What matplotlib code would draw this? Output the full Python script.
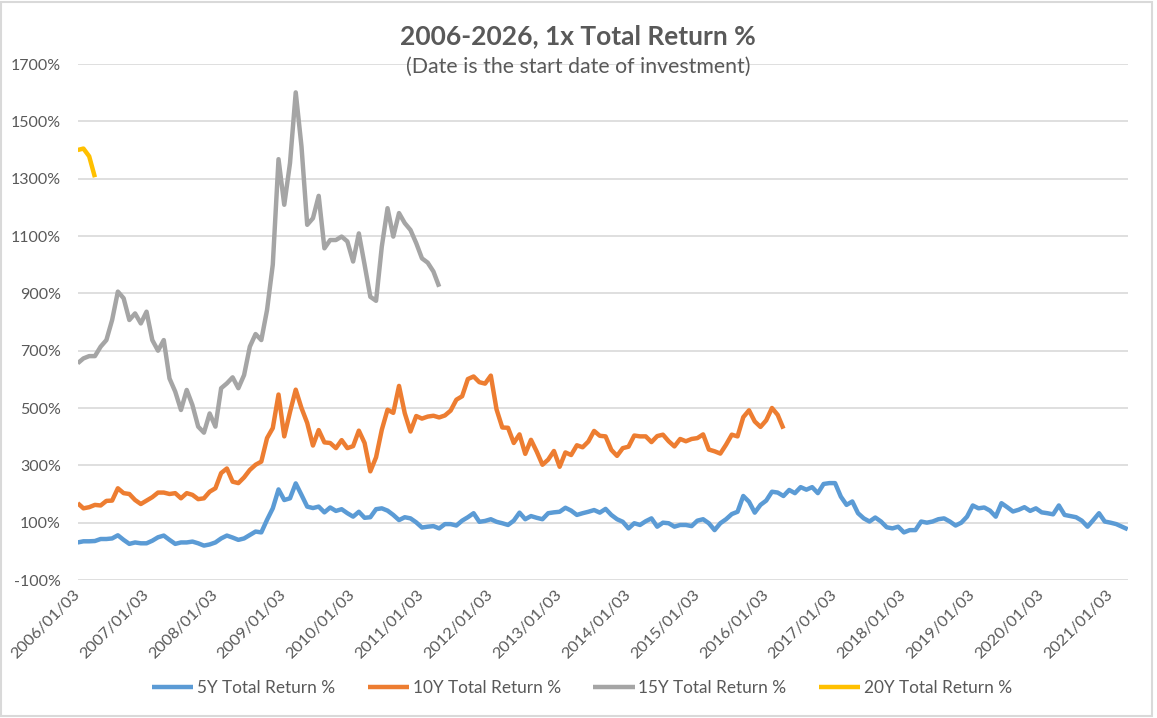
import numpy as np
import matplotlib
matplotlib.use("Agg")
import matplotlib.pyplot as plt
from matplotlib.patches import Rectangle

plt.rcParams["font.family"] = ["Lato", "DejaVu Sans"]

# ======
# Data
# ======
# monthly start dates from 2006/01 (%)
year_labels = ["2006/01/03", "2007/01/03", "2008/01/03", "2009/01/03",
               "2010/01/03", "2011/01/03", "2012/01/03", "2013/01/03",
               "2014/01/03", "2015/01/03", "2016/01/03", "2017/01/03",
               "2018/01/03", "2019/01/03", "2020/01/03", "2021/01/03"]

ret_5y = [31, 35, 35, 36, 43, 43, 45, 56, 40, 26,
          31, 28, 28, 37, 49, 55, 40, 26, 31, 31,
          34, 28, 20, 24, 31, 45, 55, 48, 40, 45,
          57, 69, 66, 110, 150, 216, 179, 185, 237, 197,
          156, 151, 156, 136, 153, 141, 147, 133, 121, 138,
          117, 119, 147, 150, 142, 127, 109, 119, 115, 101,
          83, 86, 88, 80, 95, 95, 90, 107, 119, 133,
          103, 106, 112, 103, 98, 92, 107, 135, 112, 123,
          117, 112, 133, 136, 138, 152, 142, 127, 133, 138,
          144, 135, 148, 127, 112, 103, 80, 98, 92, 105,
          115, 86, 100, 98, 86, 92, 92, 88, 107, 112,
          98, 74, 98, 112, 130, 138, 193, 173, 135, 162,
          177, 208, 205, 193, 214, 203, 224, 215, 224, 203,
          235, 238, 238, 191, 162, 174, 133, 115, 104, 118,
          104, 84, 80, 86, 66, 74, 74, 104, 100, 104,
          112, 115, 104, 90, 100, 121, 160, 150, 153, 142,
          121, 168, 154, 139, 145, 154, 141, 150, 136, 133,
          129, 160, 127, 123, 119, 107, 86, 109, 133, 104,
          100, 95, 86, 77]

ret_10y = [168, 150, 154, 162, 160, 176, 177, 220, 203, 200,
           179, 165, 177, 189, 205, 205, 200, 203, 185, 203,
           197, 182, 185, 208, 220, 273, 289, 243, 238, 258,
           284, 302, 313, 395, 430, 547, 401, 486, 564, 500,
           448, 369, 423, 380, 378, 360, 388, 360, 367, 421,
           378, 279, 328, 424, 494, 483, 577, 482, 418, 472,
           463, 470, 473, 467, 474, 491, 529, 541, 601, 610,
           590, 585, 613, 495, 432, 431, 378, 408, 340, 389,
           348, 302, 320, 350, 295, 345, 336, 370, 363, 383,
           420, 403, 401, 354, 333, 360, 365, 404, 401, 401,
           381, 402, 407, 384, 366, 392, 384, 392, 395, 408,
           355, 349, 341, 372, 407, 401, 468, 492, 453, 434,
           457, 500, 476, 428]

ret_15y = [656, 673, 681, 681, 714, 737, 807, 906, 883, 807,
           830, 795, 836, 737, 700, 737, 603, 557, 493, 563,
           510, 435, 414, 481, 435, 569, 586, 607, 569, 615,
           714, 758, 737, 842, 1000, 1368, 1209, 1354, 1601, 1413,
           1139, 1162, 1240, 1057, 1086, 1086, 1098, 1081, 1011, 1109,
           1000, 888, 874, 1063, 1197, 1098, 1180, 1145, 1121, 1075,
           1022, 1007, 976, 923]

ret_20y = [1400, 1405, 1378, 1305]

series = [
    ("5Y Total Return %", ret_5y, "#5B9BD5"),
    ("10Y Total Return %", ret_10y, "#ED7D31"),
    ("15Y Total Return %", ret_15y, "#A5A5A5"),
    ("20Y Total Return %", ret_20y, "#FFC000"),
]

TXT = "#595959"
W, H = 1157, 718

# ======
# Figure
# ======
fig = plt.figure(figsize=(W / 100, H / 100), dpi=100)
fig.patches.append(Rectangle((1 / W, 2 / H), 1151 / W, 714 / H, transform=fig.transFigure,
                             fill=False, edgecolor="#d9d9d9", lw=1.5))

ax = fig.add_axes([77.7 / W, 1 - 580 / H, 1050 / W, 516 / H])

for name, vals, col in series:
    ax.plot(np.arange(len(vals)), vals, color=col, lw=3.2, label=name,
            solid_joinstyle="round", solid_capstyle="butt")

ax.set_xlim(0, 183)
ax.set_ylim(-100, 1700)
yt = list(range(-100, 1701, 200))
ax.set_yticks(yt)
ax.set_yticklabels([f"{v}%" for v in yt], fontsize=11.5, color=TXT)
ax.set_xticks(np.arange(len(year_labels)) * 12)
ax.set_xticklabels(year_labels, fontsize=11.8, color=TXT, rotation=45,
                   ha="right", va="center", rotation_mode="anchor")
ax.tick_params(axis="both", length=0)
ax.tick_params(axis="y", pad=12)
ax.tick_params(axis="x", pad=9)
ax.grid(axis="y", color="#d9d9d9", lw=1.2)
ax.set_axisbelow(True)
for s in ax.spines.values():
    s.set_visible(False)

fig.text(578 / W, 1 - 36 / H, "2006-2026, 1x Total Return %", ha="center", va="center",
         fontsize=19, fontweight="bold", color=TXT)
fig.text(578 / W, 1 - 67 / H, "(Date is the start date of investment)", ha="center",
         va="center", fontsize=15.3, color=TXT)

fig.legend(loc="center", bbox_to_anchor=(582 / W, 1 - 688 / H), ncol=4, frameon=False,
           fontsize=12.4, labelcolor=TXT, handlelength=2.4, handletextpad=0.2,
           columnspacing=1.9)

fig.savefig("out.png", dpi=100)
